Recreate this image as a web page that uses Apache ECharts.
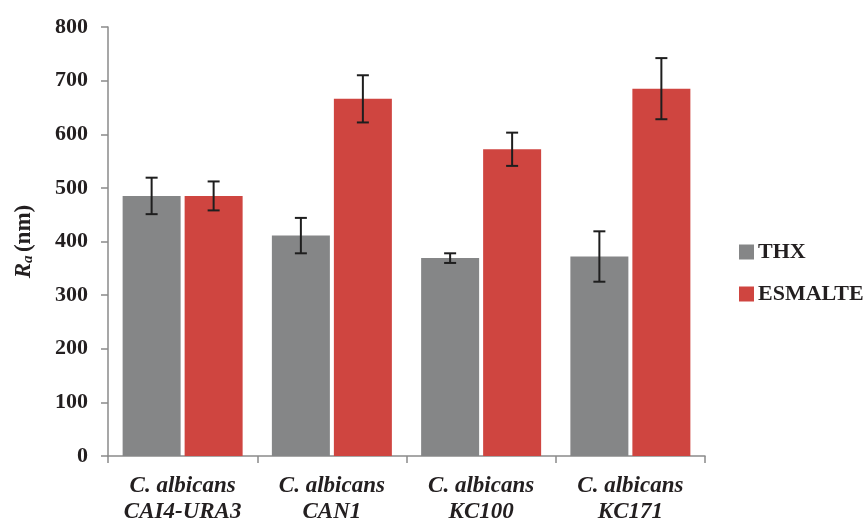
<!DOCTYPE html>
<html>
<head>
<meta charset="utf-8">
<script src="https://cdn.jsdelivr.net/npm/echarts@6/dist/echarts.min.js"></script>
<style>
  html, body { margin: 0; padding: 0; background: #fff; }
  #chart { width: 868px; height: 521px; }
</style>
</head>
<body>
<div id="chart"></div>
<script>
// Surface roughness Ra (nm) per strain, with standard deviation
const categories = ['C. albicans\nCAI4-URA3', 'C. albicans\nCAN1', 'C. albicans\nKC100', 'C. albicans\nKC171'];
const thx = [485, 411, 369, 372];
const thxErr = [34, 33, 9, 47];
const esmalte = [485, 666, 572, 685];
const esmalteErr = [27, 44, 31, 57];
const yTicks = [0, 100, 200, 300, 400, 500, 600, 700, 800];

const FONT = '"Liberation Serif", "Times New Roman", serif';
const TEXT = '#231f20';
const BAR_W = 58;
const BAR_GAP_PX = 4;
const OFFSET = (BAR_W + BAR_GAP_PX) / 2;

function errorSeries(name, values, errs, dir) {
  return {
    type: 'custom',
    name: name + ' error',
    z: 10,
    silent: true,
    data: values.map((v, i) => [i, v - errs[i], v + errs[i]]),
    renderItem: function (params, api) {
      const lo = api.coord([api.value(0), api.value(1)]);
      const hi = api.coord([api.value(0), api.value(2)]);
      const x = lo[0] + dir * OFFSET;
      const cap = 6;
      const style = { stroke: '#1e1e1e', lineWidth: 2 };
      return {
        type: 'group',
        children: [
          { type: 'line', shape: { x1: x, y1: lo[1], x2: x, y2: hi[1] }, style },
          { type: 'line', shape: { x1: x - cap, y1: lo[1], x2: x + cap, y2: lo[1] }, style },
          { type: 'line', shape: { x1: x - cap, y1: hi[1], x2: x + cap, y2: hi[1] }, style }
        ]
      };
    }
  };
}

const chart = echarts.init(document.getElementById('chart'));
chart.setOption({
  animation: false,
  backgroundColor: '#ffffff',
  grid: { left: 108, right: 163, top: 27, bottom: 65, containLabel: false, outerBoundsMode: 'none' },
  legend: {
    orient: 'vertical',
    left: 734,
    top: 236,
    itemWidth: 15,
    itemHeight: 15,
    itemGap: 20,
    icon: 'rect',
    data: ['THX', 'ESMALTE'],
    textStyle: { fontFamily: FONT, fontWeight: 'bold', fontSize: 22, lineHeight: 22, color: TEXT, padding: [0, 0, 0, -1] }
  },
  xAxis: {
    type: 'category',
    data: categories,
    axisLine: { lineStyle: { color: '#8a8a8a', width: 1.5 } },
    axisTick: { show: true, length: 7, lineStyle: { color: '#8a8a8a', width: 1.5 } },
    axisLabel: {
      interval: 0,
      fontFamily: FONT, fontStyle: 'italic', fontWeight: 'bold', fontSize: 23,
      color: TEXT, lineHeight: 26, margin: 17
    }
  },
  yAxis: {
    type: 'value',
    min: 0,
    max: 800,
    interval: 100,
    name: '{r|R}{s|a} {n|(nm)}',
    nameLocation: 'middle',
    nameRotate: 90,
    nameGap: 72,
    nameTextStyle: {
      rich: {
        r: { fontFamily: FONT, fontStyle: 'italic', fontWeight: 'bold', fontSize: 23, color: TEXT },
        s: { fontFamily: FONT, fontStyle: 'italic', fontWeight: 'bold', fontSize: 15, color: TEXT, padding: [9, 0, 0, 0] },
        n: { fontFamily: FONT, fontWeight: 'bold', fontSize: 23, color: TEXT }
      }
    },
    splitLine: { show: false },
    axisLine: { show: true, lineStyle: { color: '#8a8a8a', width: 1.5 } },
    axisTick: { show: true, length: 7, lineStyle: { color: '#8a8a8a', width: 1.5 } },
    axisLabel: {
      fontFamily: FONT, fontWeight: 'bold', fontSize: 22, color: TEXT, margin: 20,
      formatter: v => (yTicks.includes(v) ? String(v) : '')
    }
  },
  series: [
    {
      name: 'THX', type: 'bar', data: thx, barWidth: BAR_W,
      barGap: (BAR_GAP_PX / BAR_W * 100) + '%',
      itemStyle: { color: '#858687' }
    },
    {
      name: 'ESMALTE', type: 'bar', data: esmalte, barWidth: BAR_W,
      itemStyle: { color: '#cf4540' }
    },
    errorSeries('THX', thx, thxErr, -1),
    errorSeries('ESMALTE', esmalte, esmalteErr, 1)
  ]
});
</script>
</body>
</html>
